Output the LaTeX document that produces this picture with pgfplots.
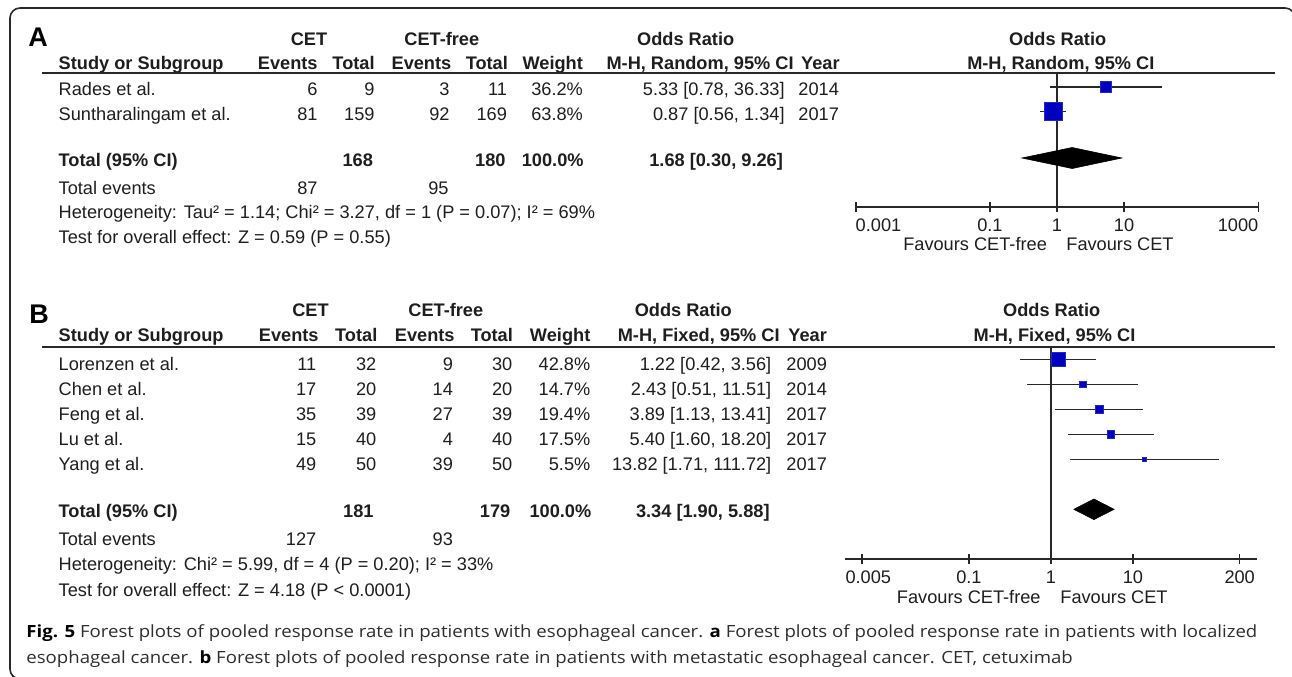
\documentclass[border=0pt]{standalone}
\usepackage{fontspec}
\setmainfont{Liberation Sans}
\newfontfamily\capfont[Ligatures=NoCommon]{Open Sans}
\usepackage{pgfplots}
\pgfplotsset{compat=1.18}
\usepackage{graphicx}

\definecolor{txt}{RGB}{30,30,30}
\definecolor{ln}{RGB}{40,40,40}
\definecolor{sq}{RGB}{0,0,190}
\definecolor{captxt}{RGB}{45,45,45}

\newcommand\fs{\fontsize{9.1pt}{10.8pt}\selectfont}
\newcommand\cfs{\capfont\fontsize{8.4pt}{10pt}\selectfont}

\tikzset{
  L/.style={anchor=base west, inner sep=0pt, font=\fs, text=txt},
  R/.style={anchor=base east, inner sep=0pt, font=\fs, text=txt},
  C/.style={anchor=base, inner sep=0pt, font=\fs, text=txt},
  LB/.style={L, font=\fs\bfseries},
  RB/.style={R, font=\fs\bfseries},
  CB/.style={C, font=\fs\bfseries},
}

% panel A row: y, name, e1, t1, e2, t2, weight, OR, year
\newcommand\rowA[9]{%
  \node[L] at (58.3,#1) {#2};
  \node[R] at (318,#1) {#3};
  \node[R] at (375,#1) {#4};
  \node[R] at (450,#1) {#5};
  \node[R] at (507.3,#1) {#6};
  \node[R] at (583.3,#1) {#7};
  \node[R] at (785,#1) {#8};
  \node[R] at (839.3,#1) {#9};
}
\newcommand\rowB[9]{%
  \node[L] at (58.3,#1) {#2};
  \node[R] at (316.7,#1) {#3};
  \node[R] at (376.7,#1) {#4};
  \node[R] at (453.3,#1) {#5};
  \node[R] at (512.7,#1) {#6};
  \node[R] at (590.7,#1) {#7};
  \node[R] at (771.7,#1) {#8};
  \node[R] at (827.3,#1) {#9};
}

\pgfplotsset{
  fplot/.style={
    scale only axis, clip=false,
    axis x line*=bottom, axis y line=none, ytick=\empty,
    tick align=center, major tick length=5.35pt,
    xtick style={draw=ln, line width=0.8pt},
    axis line style={draw=ln, line width=0.8pt, -},
    xminorticks=false,
    xticklabel style={font=\fs, text=txt, anchor=base, inner sep=0pt},
  },
}
\tikzset{
  ci/.style={draw=ln, line width=0.7pt},
  dia/.style={fill=black, draw=black, line width=0.3pt},
}

\newlength\capw
\newsavebox\capboxA
\newsavebox\capboxB

\begin{document}%
\sbox\capboxA{\cfs\color{captxt}{\color{black}\bfseries Fig. 5} Forest plots of pooled response rate in patients with esophageal cancer. {\color{black}\bfseries a} Forest plots of pooled response rate in patients with localized}%
\sbox\capboxB{\cfs\color{captxt}esophageal cancer. {\color{black}\bfseries b} Forest plots of pooled response rate in patients with metastatic esophageal cancer. CET, cetuximab}%
\setlength\capw{\wd\capboxA}%
\pgfmathsetmacro\capscale{615.5/\capw}%
\begin{tikzpicture}
\path[use as bounding box] (0,0) rectangle (646pt,-338pt);

% ---------------- Panel A forest ----------------
\begin{axis}[xmode=log, fplot,
  at={(427.85pt,-103.5pt)}, anchor=south west,
  width=201.3pt, height=67pt,
  xmin=0.001, xmax=1000, ymin=-207, ymax=-73,
  xtick={0.001,0.1,1,10,1000},
  xticklabels={\rlap{0.001},0.1,1,10,\llap{1000}},
  xticklabel style={yshift=-9.4pt},
]
\addplot[draw=ln, line width=0.8pt] coordinates {(1,-207) (1,-73)};
% Rades et al.
\addplot[ci] coordinates {(0.78,-87) (36.33,-87)};
\addplot[only marks, mark=square*, mark options={fill=sq, draw=sq!85!white, line width=0.3pt}, mark size=2.75pt] coordinates {(5.33,-87)};
% Suntharalingam et al.
\addplot[ci] coordinates {(0.56,-111.7) (1.34,-111.7)};
\addplot[only marks, mark=square*, mark options={fill=sq, draw=sq!85!white, line width=0.3pt}, mark size=4.5pt] coordinates {(0.87,-111.7)};
% Total
\addplot[dia] coordinates {(0.30,-158) (1.68,-147.5) (9.26,-158) (1.68,-168.5)} -- cycle;
\end{axis}

% ---------------- Panel B forest ----------------
\begin{axis}[xmode=log, fplot,
  at={(422.5pt,-279.5pt)}, anchor=south west,
  width=206.15pt, height=106pt,
  xmin=0.00308, xmax=328, ymin=-559, ymax=-347,
  xtick={0.005,0.1,1,10,200},
  xticklabels={\rlap{\hspace*{-8.35pt}0.005},0.1,1,10,200},
  xticklabel style={yshift=-9.6pt},
]
\addplot[draw=ln, line width=0.8pt] coordinates {(1,-559) (1,-347)};
\addplot[ci] coordinates {(0.42,-359.3) (3.56,-359.3)};
\addplot[only marks, mark=square*, mark options={fill=sq, draw=sq!85!white, line width=0.3pt}, mark size=3.4pt] coordinates {(1.22,-359.3)};
\addplot[ci] coordinates {(0.51,-384.3) (11.51,-384.3)};
\addplot[only marks, mark=square*, mark options={fill=sq, draw=sq!85!white, line width=0.3pt}, mark size=1.7pt] coordinates {(2.43,-384.3)};
\addplot[ci] coordinates {(1.13,-409.3) (13.41,-409.3)};
\addplot[only marks, mark=square*, mark options={fill=sq, draw=sq!85!white, line width=0.3pt}, mark size=1.95pt] coordinates {(3.89,-409.3)};
\addplot[ci] coordinates {(1.60,-434.3) (18.20,-434.3)};
\addplot[only marks, mark=square*, mark options={fill=sq, draw=sq!85!white, line width=0.3pt}, mark size=1.85pt] coordinates {(5.40,-434.3)};
\addplot[ci] coordinates {(1.71,-459.3) (111.72,-459.3)};
\addplot[only marks, mark=square*, mark options={fill=sq, draw=sq!85!white, line width=0.3pt}, mark size=1.1pt] coordinates {(13.82,-459.3)};
\addplot[dia] coordinates {(1.90,-509.3) (3.34,-499) (5.88,-509.3) (3.34,-519.6)} -- cycle;
\end{axis}

\begin{scope}[x=0.5pt, y=-0.5pt]
% frame
\draw[ln, line width=0.8pt, rounded corners=5pt] (60,679) -- (10,679) -- (10,8) -- (1295,8) -- (1295,60);

% ============ Panel A text ============
\node[anchor=base west, inner sep=0pt, font=\fontsize{13.5pt}{14pt}\selectfont\bfseries] at (28,46.7) {A};
\node[CB] at (309,45) {CET};
\node[CB] at (441.8,45) {CET-free};
\node[CB] at (685.7,45) {Odds Ratio};
\node[CB] at (1057.7,45) {Odds Ratio};
\node[LB] at (58.3,69.3) {Study or Subgroup};
\node[RB] at (318,69.3) {Events};
\node[RB] at (375,69.3) {Total};
\node[RB] at (451.7,69.3) {Events};
\node[RB] at (508.3,69.3) {Total};
\node[RB] at (583.3,69.3) {Weight};
\node[RB] at (794,69.3) {M-H, Random, 95\% CI};
\node[RB] at (840,69.3) {Year};
\node[CB] at (1060.8,69.3) {M-H, Random, 95\% CI};
\draw[ln, line width=1pt] (42,73) -- (1275,73);

\rowA{95}{Rades et al.}{6}{9}{3}{11}{36.2\%}{5.33 [0.78, 36.33]}{2014}
\rowA{120}{Suntharalingam et al.}{81}{159}{92}{169}{63.8\%}{0.87 [0.56, 1.34]}{2017}

\node[LB] at (58.3,166) {Total (95\% CI)};
\node[RB] at (373.3,166) {168};
\node[RB] at (506,166) {180};
\node[RB] at (584,166) {100.0\%};
\node[RB] at (783.3,166) {1.68 [0.30, 9.26]};
\node[L] at (58.3,194.3) {Total events};
\node[R] at (318,194.3) {87};
\node[R] at (449,194.3) {95};
\node[L] at (58.3,218.7) {Heterogeneity: Tau² = 1.14; Chi² = 3.27, df = 1 (P = 0.07); I² = 69\%};
\node[L] at (58.3,243.3) {Test for overall effect: Z = 0.59 (P = 0.55)};
\node[R] at (1047.3,250) {Favours CET-free};
\node[L] at (1066,250) {Favours CET};

% ============ Panel B text ============
\node[anchor=base west, inner sep=0pt, font=\fontsize{13.5pt}{14pt}\selectfont\bfseries] at (29,323.3) {B};
\node[CB] at (310.5,316.7) {CET};
\node[CB] at (445.8,316.7) {CET-free};
\node[CB] at (683.3,316.7) {Odds Ratio};
\node[CB] at (1051.7,316.7) {Odds Ratio};
\node[LB] at (58.3,341.7) {Study or Subgroup};
\node[RB] at (319,341.7) {Events};
\node[RB] at (377.7,341.7) {Total};
\node[RB] at (455,341.7) {Events};
\node[RB] at (513.3,341.7) {Total};
\node[RB] at (590.7,341.7) {Weight};
\node[RB] at (780,341.7) {M-H, Fixed, 95\% CI};
\node[RB] at (827.3,341.7) {Year};
\node[CB] at (1054.5,341.7) {M-H, Fixed, 95\% CI};
\draw[ln, line width=1pt] (42,346.7) -- (1275,346.7);

\rowB{370.3}{Lorenzen et al.}{11}{32}{9}{30}{42.8\%}{1.22 [0.42, 3.56]}{2009}
\rowB{395.3}{Chen et al.}{17}{20}{14}{20}{14.7\%}{2.43 [0.51, 11.51]}{2014}
\rowB{420.3}{Feng et al.}{35}{39}{27}{39}{19.4\%}{3.89 [1.13, 13.41]}{2017}
\rowB{445.3}{Lu et al.}{15}{40}{4}{40}{17.5\%}{5.40 [1.60, 18.20]}{2017}
\rowB{470.3}{Yang et al.}{49}{50}{39}{50}{5.5\%}{13.82 [1.71, 111.72]}{2017}

\node[LB] at (58.3,517.3) {Total (95\% CI)};
\node[RB] at (374,517.3) {181};
\node[RB] at (510.7,517.3) {179};
\node[RB] at (591.7,517.3) {100.0\%};
\node[RB] at (770,517.3) {3.34 [1.90, 5.88]};
\node[L] at (58.3,545.3) {Total events};
\node[R] at (316.7,545.3) {127};
\node[R] at (453.3,545.3) {93};
\node[L] at (58.3,570.7) {Heterogeneity: Chi² = 5.99, df = 4 (P = 0.20); I² = 33\%};
\node[L] at (58.3,596) {Test for overall effect: Z = 4.18 (P < 0.0001)};
\node[R] at (1041,603.3) {Favours CET-free};
\node[L] at (1060,603.3) {Favours CET};

% ============ Caption ============
\node[anchor=base west, inner sep=0pt] at (26,637) {\scalebox{\capscale}[1]{\usebox\capboxA}};
\node[anchor=base west, inner sep=0pt] at (26,663) {\scalebox{\capscale}[1]{\usebox\capboxB}};
\end{scope}
\end{tikzpicture}%
\end{document}
